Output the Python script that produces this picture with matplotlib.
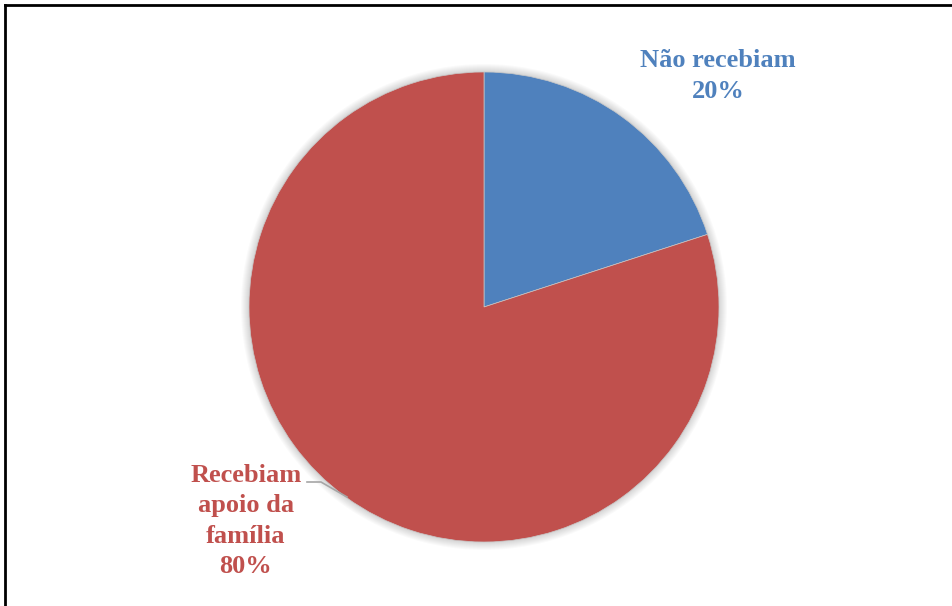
import matplotlib
matplotlib.use("Agg")
import matplotlib.pyplot as plt
from matplotlib.patches import Circle
from matplotlib.lines import Line2D

# share of respondents by family support
labels = ["Não recebiam", "Recebiam\napoio da\nfamília"]
values = [20, 80]
colors = ["#4F81BD", "#C0504D"]

W, H = 953, 606
fig = plt.figure(figsize=(W / 100, H / 100), dpi=100)
ax = fig.add_axes([0, 0, 1, 1])
ax.set_xlim(0, W)
ax.set_ylim(0, H)
ax.set_aspect("equal")
ax.axis("off")

cx, cy, r = 484, H - 307, 235

# soft shadow under the pie
for k in range(1, 9):
    ax.add_patch(Circle((cx, cy), r + k, color="black", alpha=0.018, lw=0, zorder=0))

wedges, _ = ax.pie(values, colors=colors, startangle=90, counterclock=False,
                   center=(cx, cy), radius=r, frame=True,
                   wedgeprops=dict(linewidth=0.5, edgecolor="#c8c8c8"))
ax.set_xlim(0, W)
ax.set_ylim(0, H)
ax.axis("off")

font = dict(family="Liberation Serif", weight="bold", fontsize=19,
            ha="center", va="center", linespacing=1.4)
ax.text(718, H - 76, f"{labels[0]}\n{values[0]}%", color=colors[0], **font)
ax.text(246, H - 521, f"{labels[1]}\n{values[1]}%", color=colors[1], **font)

# leader line for the lower label
ax.plot([307, 321, 347], [H - 482, H - 482, H - 497], color="#a6a6a6", lw=1.2, zorder=3)

# outer frame (left and top edges)
fig.add_artist(Line2D([4.5 / W, 4.5 / W], [0, 1 - 5 / H], color="black", lw=2,
                      transform=fig.transFigure))
fig.add_artist(Line2D([4.5 / W, 1], [1 - 5 / H, 1 - 5 / H], color="black", lw=2,
                      transform=fig.transFigure))

fig.savefig("out.png", dpi=100)
